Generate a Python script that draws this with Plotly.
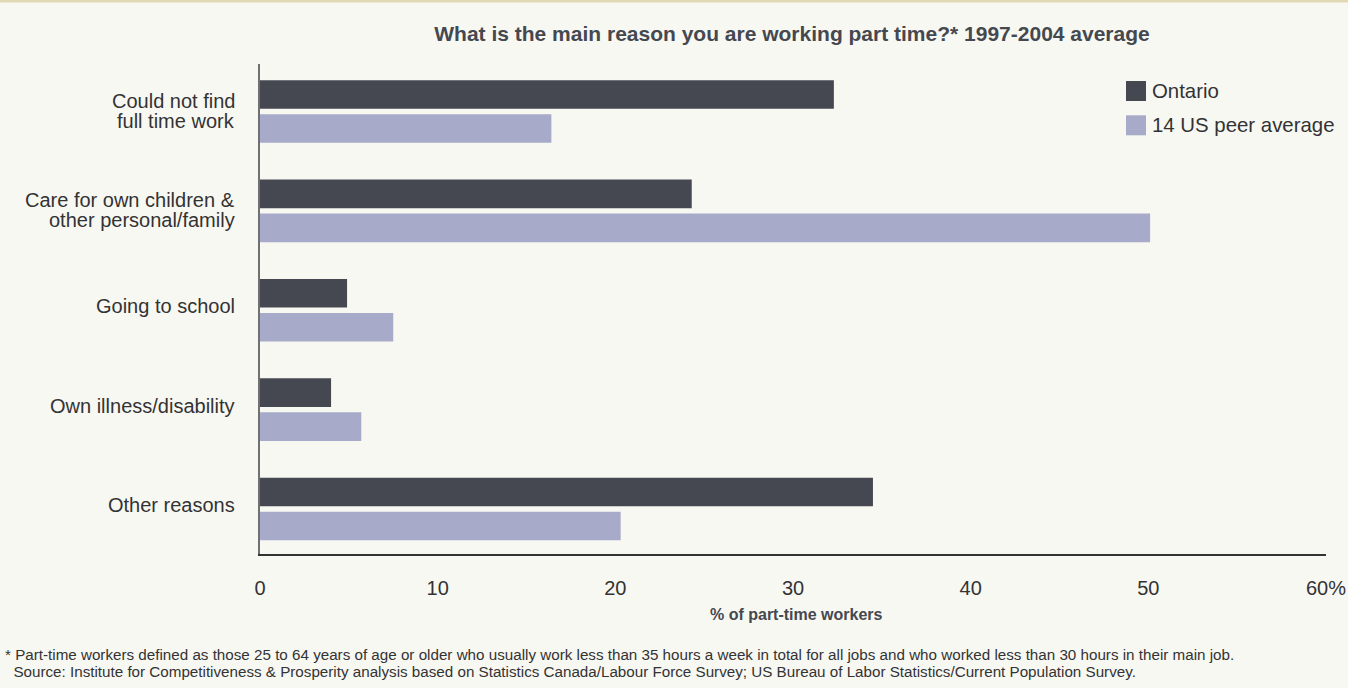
import plotly.graph_objects as go

# Reasons for working part time, 1997-2004 average (% of part-time workers)
reasons = [
    "Could not find<br>full time work",
    "Care for own children &<br>other personal/family",
    "Going to school",
    "Own illness/disability",
    "Other reasons",
]
ontario = [32.3, 24.3, 4.9, 4.0, 34.5]
us_peer = [16.4, 50.1, 7.5, 5.7, 20.3]

series_names = ["Ontario", "14 US peer average"]
series_colors = ["#454850", "#a7aac8"]

x_ticks = [0, 10, 20, 30, 40, 50, 60]
x_tick_text = ["0", "10", "20", "30", "40", "50", "60%"]

footnotes = [
    "* Part-time workers defined as those 25 to 64 years of age or older who usually work less than 35 hours a week in total for all jobs and who worked less than 30 hours in their main job.",
    "  Source: Institute for Competitiveness & Prosperity analysis based on Statistics Canada/Labour Force Survey; US Bureau of Labor Statistics/Current Population Survey.",
]

W, H = 1348, 688
M_L, M_R, M_T, M_B = 260, 22, 64, 134
PW, PH = W - M_L - M_R, H - M_T - M_B

FONT = "Liberation Sans, Arial, Helvetica, sans-serif"
TEXT = "#333333"
BG = "#f8f8f3"


def px_x(p):
    return (p - M_L) / PW


def px_y(p):
    return (H - M_B - p) / PH


fig = go.Figure()
for name, vals, col in zip(series_names, [ontario, us_peer], series_colors):
    fig.add_trace(go.Bar(
        y=reasons, x=vals, name=name, orientation="h",
        marker=dict(color=col, line=dict(width=0)),
        showlegend=False,
        hovertemplate="%{y}: %{x}%<extra>" + name + "</extra>",
    ))

shapes = [
    # thin beige rule along the top edge of the panel
    dict(type="rect", xref="paper", yref="paper",
         x0=px_x(0), x1=px_x(W), y0=px_y(2.5), y1=px_y(0),
         fillcolor="#e2d8b4", line=dict(width=0), layer="below"),
]
annotations = []

# category labels, tightly leaded, right-aligned next to the axis
for cat in reasons:
    lines = cat.split("<br>")
    n = len(lines)
    lift = 1 if n > 1 else 4
    for j, ln in enumerate(lines):
        annotations.append(dict(xref="paper", yref="y", x=px_x(237), y=cat,
                                yshift=(n - 1) * 10 - j * 20 + lift,
                                xanchor="right", yanchor="middle",
                                text=ln, showarrow=False,
                                font=dict(family=FONT, size=20, color=TEXT)))

# legend: colour swatch + label
for i, (name, col) in enumerate(zip(series_names, series_colors)):
    top = 81 + i * 34.3
    shapes.append(dict(type="rect", xref="paper", yref="paper",
                       x0=px_x(1126), x1=px_x(1146),
                       y0=px_y(top + 20), y1=px_y(top),
                       fillcolor=col, line=dict(width=0)))
    annotations.append(dict(xref="paper", yref="paper",
                            x=px_x(1150), y=px_y(top + 10),
                            xanchor="left", yanchor="middle",
                            text=name, showarrow=False,
                            font=dict(family=FONT, size=20.4, color=TEXT)))

# x-axis title
annotations.append(dict(xref="paper", yref="paper",
                        x=px_x(796), y=px_y(614), xanchor="center", yanchor="middle",
                        text="<b>% of part-time workers</b>", showarrow=False,
                        font=dict(family=FONT, size=16, color="#45484f")))

# footnotes, one line each
for i, line in enumerate(footnotes):
    annotations.append(dict(xref="paper", yref="paper",
                            x=px_x(3), y=px_y(654 + 17.5 * i),
                            xanchor="left", yanchor="middle",
                            align="left", showarrow=False,
                            text=line.replace("  ", "&nbsp;&nbsp;"),
                            font=dict(family=FONT, size=15.2, color=TEXT)))

fig.update_layout(
    width=W, height=H,
    margin=dict(l=M_L, r=M_R, t=M_T, b=M_B, pad=0, autoexpand=False),
    paper_bgcolor=BG, plot_bgcolor=BG,
    barmode="group", bargap=0.316, bargroupgap=0.156,
    title=dict(text="<b>What is the main reason you are working part time?* 1997-2004 average</b>",
               x=792 / W, xanchor="center", xref="container",
               y=1 - 34 / H, yref="container", yanchor="middle",
               font=dict(family=FONT, size=21, color="#45484f")),
    xaxis=dict(range=[0, 60], tickvals=x_ticks, ticktext=x_tick_text,
               showgrid=False, zeroline=False, automargin=False,
               showline=True, linecolor="#333333", linewidth=1.5,
               ticks="", ticklabelstandoff=15,
               tickfont=dict(family=FONT, size=20, color=TEXT)),
    yaxis=dict(range=[4.453, -0.478], showgrid=False, zeroline=False,
               automargin=False, showticklabels=False,
               showline=True, linecolor="#707070", linewidth=2,
               ticks=""),
    shapes=shapes, annotations=annotations,
    showlegend=False,
    font=dict(family=FONT, color=TEXT),
)

fig.write_html("out.html")
